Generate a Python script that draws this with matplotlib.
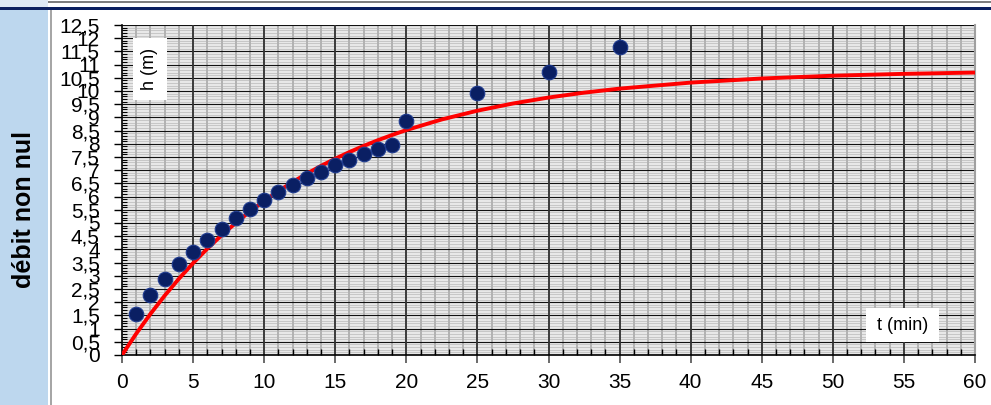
import matplotlib
matplotlib.use("Agg")
import numpy as np
import matplotlib.pyplot as plt
from matplotlib.patches import Rectangle
from matplotlib.ticker import MultipleLocator, FixedLocator, FixedFormatter

# Measured water height h (m) versus time t (min)
t_meas = [1, 2, 3, 4, 5, 6, 7, 8, 9, 10, 11, 12, 13, 14, 15, 16, 17, 18, 19,
          20, 25, 30, 35]
h_meas = [1.55, 2.28, 2.87, 3.45, 3.90, 4.36, 4.78, 5.19, 5.54, 5.86, 6.17,
          6.44, 6.72, 6.94, 7.18, 7.39, 7.61, 7.79, 7.95,
          8.88, 9.91, 10.72, 11.65]

# Model curve h(t)
t_model = [0, 1, 2, 3, 4, 5, 6, 7, 8, 9, 10, 11, 12, 13, 14, 15, 16, 17, 18,
           19, 20, 22.5, 25, 27.5, 30, 32.5, 35, 40, 45, 50, 55, 60]
h_model = [0.0, 0.808, 1.556, 2.247, 2.887, 3.479, 4.027, 4.533, 5.002,
           5.436, 5.837, 6.208, 6.552, 6.870, 7.164, 7.436, 7.688, 7.920,
           8.136, 8.335, 8.520, 8.923, 9.254, 9.527, 9.752, 9.937, 10.090,
           10.318, 10.474, 10.579, 10.650, 10.698]

x_ticks = [0, 5, 10, 15, 20, 25, 30, 35, 40, 45, 50, 55, 60]
x_tick_labels = ["0", "5", "10", "15", "20", "25", "30", "35", "40", "45",
                 "50", "55", "60"]
y_ticks = [0, 0.5, 1, 1.5, 2, 2.5, 3, 3.5, 4, 4.5, 5, 5.5, 6, 6.5, 7, 7.5,
           8, 8.5, 9, 9.5, 10, 10.5, 11, 11.5, 12, 12.5]
y_tick_labels = ["0", "0,5", "1", "1,5", "2", "2,5", "3", "3,5", "4", "4,5",
                 "5", "5,5", "6", "6,5", "7", "7,5", "8", "8,5", "9", "9,5",
                 "10", "10,5", "11", "11,5", "12", "12,5"]

row_label = "débit non nul"
x_label = "t (min)"
y_label = "h (m)"

narrow = ["Liberation Sans Narrow", "Liberation Sans", "DejaVu Sans"]
plain = ["Liberation Sans", "DejaVu Sans"]

W, H = 991, 405
fig = plt.figure(figsize=(W / 100, H / 100), dpi=100)
fig.patch.set_facecolor("white")

def fx(px):
    return px / W

def fy(py):
    return 1 - py / H

# Table cell decoration: blue row-header cell, borders
fig.patches.append(Rectangle((0, fy(405)), fx(48), fy(10) - fy(405),
                             transform=fig.transFigure, facecolor="#bdd7ee",
                             edgecolor="none", zorder=0))
fig.patches.append(Rectangle((0, fy(7)), fx(48), 1 - fy(7),
                             transform=fig.transFigure, facecolor="#dde9f5",
                             edgecolor="none", zorder=0))
fig.patches.append(Rectangle((0, fy(10)), 1, fy(7) - fy(10),
                             transform=fig.transFigure, facecolor="#0b2060",
                             edgecolor="none", zorder=1))
fig.patches.append(Rectangle((fx(48), fy(2.5)), 1, fy(1) - fy(2.5),
                             transform=fig.transFigure, facecolor="#7f7f7f",
                             edgecolor="none", zorder=1))
fig.patches.append(Rectangle((fx(50), 0), fx(2), fy(10),
                             transform=fig.transFigure, facecolor="#a6a6a6",
                             edgecolor="none", zorder=1))
fig.text(fx(24), fy(210), row_label, rotation=90, ha="center", va="center",
         fontsize=18, fontweight="bold", family=plain, color="#000000")

# Chart area
ax = fig.add_axes([fx(122), fy(355), fx(975) - fx(122), fy(25) - fy(355)])
ax.set_facecolor("#e8e8e8")
ax.set_xlim(0, 60)
ax.set_ylim(0, 12.5)

ax.xaxis.set_major_locator(FixedLocator(x_ticks))
ax.xaxis.set_major_formatter(FixedFormatter(x_tick_labels))
ax.xaxis.set_minor_locator(MultipleLocator(1))
ax.yaxis.set_major_locator(FixedLocator(y_ticks))
ax.yaxis.set_major_formatter(FixedFormatter(y_tick_labels))
ax.yaxis.set_minor_locator(MultipleLocator(0.1))

# Grid layers: fine horizontal stripes, then minute lines, then major lines
ax.hlines(np.arange(0.1, 12.5, 0.1), 0, 60, colors="#c6c6c6",
          linewidth=0.7, zorder=0.6)
ax.vlines(np.arange(1, 60, 1), 0, 12.5, colors="#b2b2b2",
          linewidth=1.4, zorder=0.7)
ax.hlines(y_ticks, 0, 60, colors="#111111", linewidth=0.8, zorder=0.8)
ax.vlines(x_ticks[1:-1], 0, 12.5, colors="#333333", linewidth=1.3,
          zorder=0.9)

ax.tick_params(axis="x", which="major", direction="out", length=6,
               width=1.2, color="#505050", pad=7, labelsize=15)
ax.tick_params(axis="x", which="minor", direction="in", length=4.5,
               width=1, color="#000000")
ax.tick_params(axis="y", which="major", direction="out", length=6,
               width=1, color="#000000", pad=10, labelsize=15)
ax.tick_params(axis="y", which="minor", direction="in", length=3.5,
               width=0.8, color="#000000")
for lab in ax.get_xticklabels() + ax.get_yticklabels():
    lab.set_family(narrow)

for side in ("left", "bottom"):
    ax.spines[side].set_color("#000000")
    ax.spines[side].set_linewidth(1.2)
ax.spines["right"].set_color("#a0a0a0")
ax.spines["right"].set_linewidth(1.5)
ax.spines["top"].set_visible(False)

ax.plot(t_model, h_model, color="#ff0000", linewidth=2.8, zorder=3,
        solid_capstyle="butt")
ax.plot(t_meas, h_meas, linestyle="none", marker="o", markersize=10.5,
        markerfacecolor="#0a1f63", markeredgecolor="#1f3b8f",
        markeredgewidth=0.8, zorder=4)

# Axis title boxes
ax.add_patch(Rectangle((fx(133), fy(100)), fx(34), fy(38) - fy(100),
                       transform=fig.transFigure, facecolor="white",
                       edgecolor="none", zorder=5, clip_on=False))
fig.text(fx(150), fy(69), y_label, rotation=90, ha="center", va="center",
         fontsize=13, family=plain, color="#000000", zorder=6)
ax.add_patch(Rectangle((fx(866), fy(342)), fx(73), fy(308) - fy(342),
                       transform=fig.transFigure, facecolor="white",
                       edgecolor="none", zorder=5, clip_on=False))
fig.text(fx(902.5), fy(325), x_label, ha="center", va="center",
         fontsize=13, family=plain, color="#000000", zorder=6)

fig.savefig("out.png", dpi=100, facecolor="white")
